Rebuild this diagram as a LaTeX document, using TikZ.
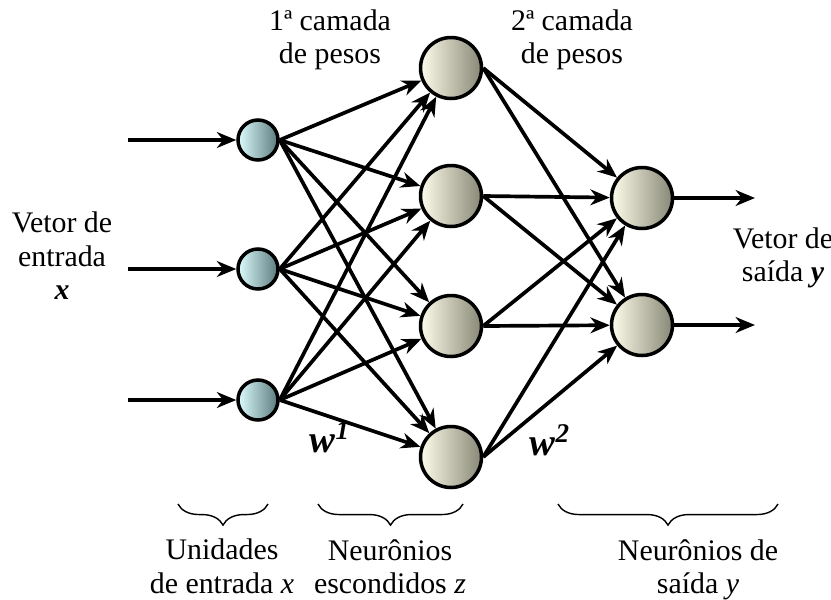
\documentclass[tikz,border=0pt]{standalone}
\usepackage{fontspec}
\setmainfont{Liberation Serif}
\usetikzlibrary{arrows.meta,decorations.pathreplacing}
\definecolor{entradaclara}{RGB}{220,252,253}
\definecolor{entradaescura}{RGB}{92,122,126}
\definecolor{ocultoclaro}{RGB}{254,252,234}
\definecolor{ocultoescuro}{RGB}{136,136,118}
\tikzset{
  entrada/.style={circle,draw,line width=2pt,minimum size=0.8cm,inner sep=0pt,
    left color=entradaclara,right color=entradaescura},
  oculto/.style={circle,draw,line width=2pt,minimum size=1.22cm,inner sep=0pt,
    left color=ocultoclaro,right color=ocultoescuro},
  seta/.style={line width=2.1pt,-{Stealth[length=11pt,width=9pt,inset=3.5pt]}},
  chave/.style={decorate,decoration={brace,mirror,amplitude=12pt},line width=0.8pt},
  rotulo/.style={align=center,font=\fontsize{17}{19}\selectfont},
  peso/.style={font=\fontsize{22}{24}\selectfont\bfseries\itshape},
}
\begin{document}
\begin{tikzpicture}[x=0.02cm,y=-0.02cm]
    \useasboundingbox (0,0) rectangle (831,599);
    % unidades de entrada
    \node[entrada] (e1) at (258,140) {};
    \node[entrada] (e2) at (258,269) {};
    \node[entrada] (e3) at (258,400) {};
    % neuronios escondidos
    \node[oculto] (h1) at (451,68) {};
    \node[oculto] (h2) at (451,196) {};
    \node[oculto] (h3) at (451,326) {};
    \node[oculto] (h4) at (451,457) {};
    % neuronios de saida
    \node[oculto] (s1) at (642,198) {};
    \node[oculto] (s2) at (642,325) {};
    \coordinate (x1) at (128,140);
    \coordinate (x2) at (128,269);
    \coordinate (x3) at (128,400);
    \coordinate (y1) at (755,198);
    \coordinate (y2) at (755,325);
    \foreach \i in {1,2,3}
      \draw[seta] (x\i) -- (e\i);
    \foreach \i in {1,2,3}
      \foreach \j in {1,...,4}
        \draw[seta] (e\i.east) -- (h\j);
    \foreach \j in {1,...,4}
      \foreach \k in {1,2}
        \draw[seta] (h\j.east) -- (s\k);
    \draw[seta] (s1) -- (y1);
    \draw[seta] (s2) -- (y2);
    % textos
    \node[rotulo] (ve) at (62,256) {Vetor de\\entrada\\\textbf{\textit{x}}};
    \node[rotulo] (c1) at (330,40) {1ª camada\\de pesos};
    \node[rotulo] (c2) at (572,40) {2ª camada\\de pesos};
    \node[rotulo] (vs) at (783,258) {Vetor de\\saída \textbf{\textit{y}}};
    \node[peso] (w1) at (330,437) {w\textsuperscript{1}};
    \node[peso] (w2) at (550,440) {w\textsuperscript{2}};
    % chaves
    \draw[chave] (178,504) -- (268,504);
    \draw[chave] (318,504) -- (463,504);
    \draw[chave] (558,504) -- (778,504);
    \node[rotulo,anchor=north] (u) at (222,533) {Unidades\\de entrada \textit{x}};
    \node[rotulo,anchor=north] (n) at (390,533) {Neurônios\\escondidos \textit{z}};
    \node[rotulo,anchor=north] (ns) at (698,533) {Neurônios de\\saída \textit{y}};
\end{tikzpicture}
\end{document}
